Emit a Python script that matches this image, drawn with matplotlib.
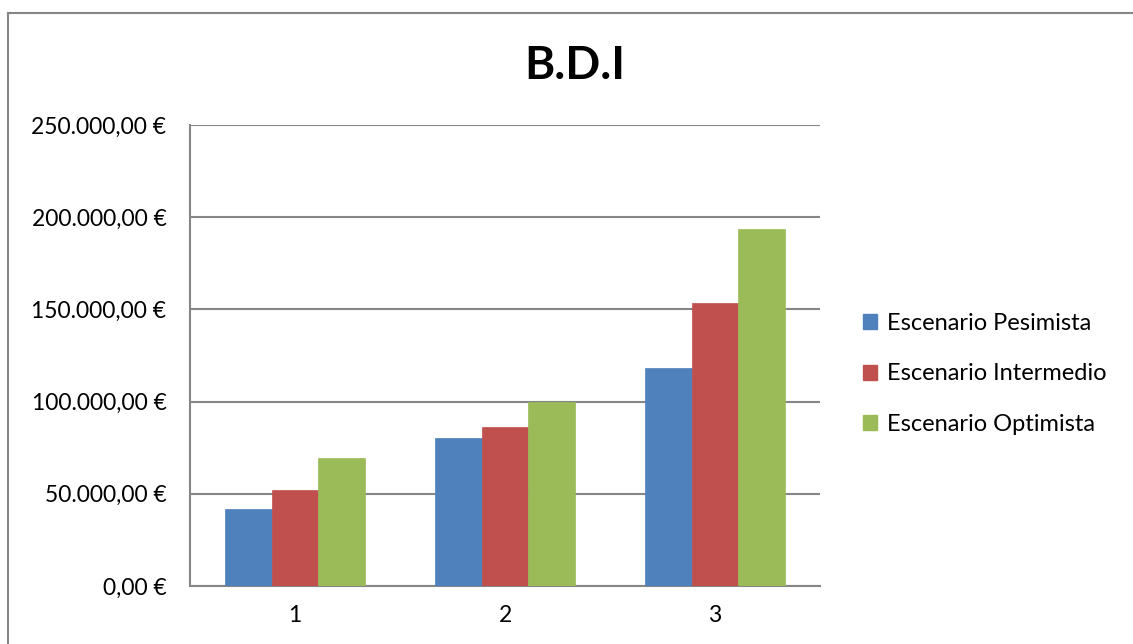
import matplotlib
matplotlib.use("Agg")
import matplotlib.pyplot as plt
import numpy as np
from matplotlib.patches import Rectangle
from matplotlib.lines import Line2D

categories = ["1", "2", "3"]
series_names = ["Escenario Pesimista", "Escenario Intermedio", "Escenario Optimista"]
pesimista = [41600, 80100, 118400]
intermedio = [51900, 86200, 153300]
optimista = [69200, 100000, 193600]
colors = ["#4F81BD", "#C0504D", "#9BBB59"]
yticks = [0, 50000, 100000, 150000, 200000, 250000]

def euro(v):
    s = f"{v:,.2f}"
    s = s.replace(",", "X").replace(".", ",").replace("X", ".")
    return s + " €"

plt.rcParams['font.family'] = ['Lato', 'DejaVu Sans']

fig = plt.figure(figsize=(11.33, 6.44), dpi=100)
ax = fig.add_axes([190/1133, 1-586/644, 630/1133, 461/644])

x = np.arange(len(categories))
w = 1/(3+1.5)
for i, (vals, name) in enumerate(zip([pesimista, intermedio, optimista], series_names)):
    ax.bar(x + (i-1)*w, vals, width=w, color=colors[i], label=name, zorder=3,
           edgecolor=colors[i], linewidth=0.5)

ax.set_xlim(-0.5, 2.5)
ax.set_ylim(0, 250000)
ax.set_yticks(yticks)
ax.set_yticklabels([euro(v) for v in yticks], fontsize=16.5)
ax.set_xticks(x)
ax.set_xticklabels(categories, fontsize=16.5)
ax.tick_params(axis='y', length=0, pad=17)
ax.tick_params(axis='x', length=0, pad=14)
ax.yaxis.grid(True, color="#868686", linewidth=1.5, zorder=0)
ax.set_axisbelow(True)
for s in ["top", "right"]:
    ax.spines[s].set_visible(False)
for s in ["left", "bottom"]:
    ax.spines[s].set_color("#868686")
    ax.spines[s].set_linewidth(1.5)

fig.text(575/1133, 1-66/644, "B.D.I", ha="center", va="center", fontsize=33, fontweight="bold")

handles = [Rectangle((0, 0), 1, 1, color=c) for c in colors]
fig.legend(handles, series_names, loc="center left", bbox_to_anchor=(842/1133, 1-374/644),
           frameon=False, fontsize=17, handlelength=0.6, handleheight=0.6,
           handletextpad=0.4, labelspacing=1.25)

# outer chart border
fig.add_artist(Line2D([8/1133, 8/1133], [0, 1-13/644], transform=fig.transFigure,
                      color="#868686", linewidth=1.5))
fig.add_artist(Line2D([8/1133, 1], [1-13/644, 1-13/644], transform=fig.transFigure,
                      color="#868686", linewidth=1.5))

fig.savefig("out.png", dpi=100)
